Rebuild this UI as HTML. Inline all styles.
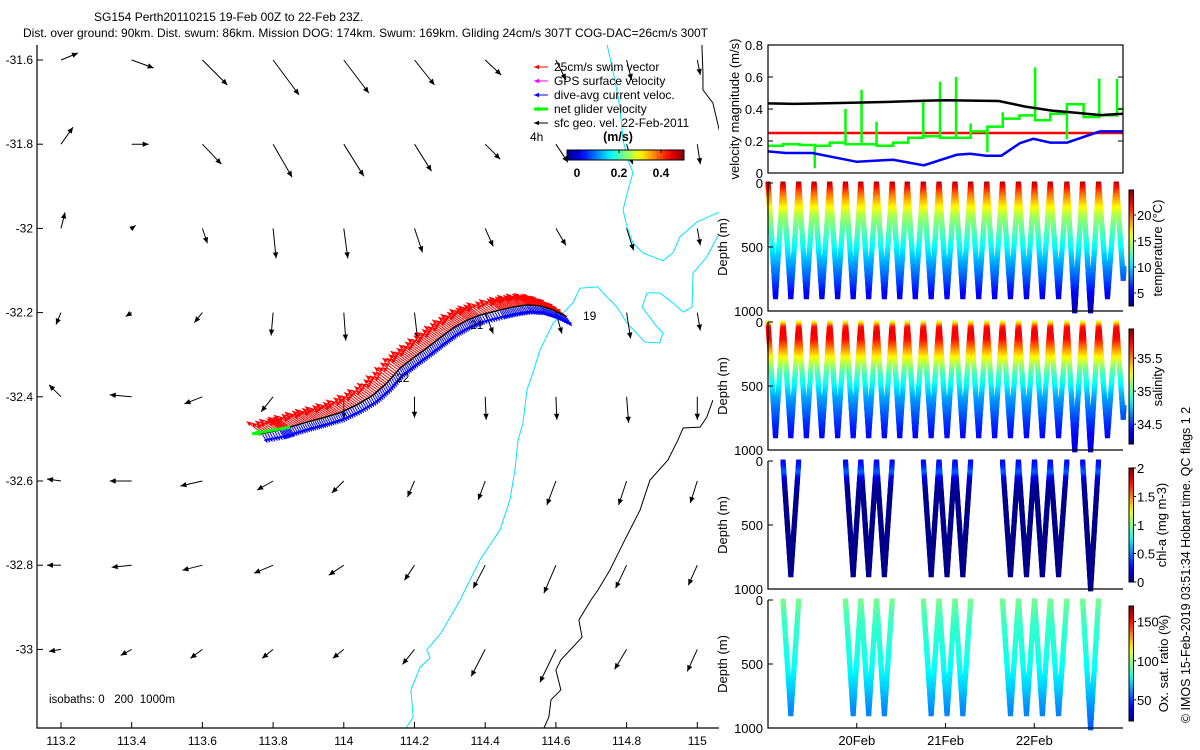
<!DOCTYPE html>
<html><head><meta charset="utf-8"><title>SG154 glider plot</title>
<style>
body{margin:0;background:#fff;}
svg{display:block;font-family:"Liberation Sans",sans-serif;}
text{fill:#000;}
</style></head>
<body>
<svg id="fig" width="1200" height="750" viewBox="0 0 1200 750" xmlns="http://www.w3.org/2000/svg">
<rect x="0" y="0" width="1200" height="750" fill="#fff"/>
<text x="94" y="21" font-size="12">SG154 Perth20110215 19-Feb 00Z to 22-Feb 23Z.</text>
<text x="23" y="37" font-size="12">Dist. over ground: 90km. Dist. swum: 86km. Mission DOG: 174km. Swum: 169km. Gliding 24cm/s 307T COG-DAC=26cm/s 300T</text>
<g id="map"></g>
<g id="vel"></g>
<g id="temp"></g>
<g id="sal"></g>
<g id="chl"></g>
<g id="ox"></g>
<text transform="translate(1190,565) rotate(-90)" text-anchor="middle" font-size="12.5">© IMOS 15-Feb-2019 03:51:34 Hobart time. QC flags 1 2</text>
</svg>
<script>
// ---------- MAP DATA ----------
const gridLons = [113.2,113.4,113.6,113.8,114.0,114.2,114.4,114.6,114.8,115.0];
const gridLats = [-31.6,-31.8,-32.0,-32.2,-32.4,-32.6,-32.8,-33.0];
const geoU = [
 [0.17,0.22,0.25,0.26,0.25,0.20,0.16,0.10,0.05,0.03],
 [0.12,0.17,0.19,0.19,0.20,0.17,0.15,0.12,0.06,0.03],
 [0.04,0.04,0.05,0.03,0.04,0.08,0.08,0.10,0.07,0.03],
 [-0.05,-0.06,-0.08,-0.02,0.02,0.03,0.08,0.06,0.04,0.03],
 [-0.12,-0.22,-0.18,-0.12,0.00,0.00,0.01,0.01,0.02,0.00],
 [-0.14,-0.22,-0.22,-0.16,-0.12,-0.07,-0.07,-0.09,-0.08,-0.07],
 [-0.14,-0.20,-0.20,-0.19,-0.15,-0.10,-0.12,-0.12,-0.11,-0.09],
 [-0.12,-0.11,-0.12,-0.11,-0.11,-0.12,-0.14,-0.16,-0.12,-0.10]];
const geoV = [
 [0.07,-0.08,-0.25,-0.35,-0.33,-0.25,-0.15,-0.20,-0.20,-0.15],
 [0.17,0.00,-0.20,-0.33,-0.32,-0.27,-0.15,-0.18,-0.20,-0.20],
 [0.16,0.03,-0.15,-0.30,-0.30,-0.24,-0.18,-0.17,-0.22,-0.17],
 [-0.12,-0.04,-0.10,-0.23,-0.28,-0.26,-0.21,-0.21,-0.26,-0.18],
 [0.12,0.02,-0.07,-0.15,-0.22,-0.21,-0.23,-0.23,-0.26,-0.23],
 [0.02,0.00,-0.05,-0.09,-0.12,-0.16,-0.19,-0.24,-0.24,-0.22],
 [0.00,-0.02,-0.05,-0.08,-0.10,-0.15,-0.23,-0.28,-0.23,-0.20],
 [-0.02,-0.06,-0.09,-0.09,-0.09,-0.15,-0.27,-0.33,-0.20,-0.22]];
const xTickLabels = ["113.2","113.4","113.6","113.8","114","114.2","114.4","114.6","114.8","115"];
const yTickLabels = ["-31.6","-31.8","-32","-32.2","-32.4","-32.6","-32.8","-33"];
const trackLon = [114.631,114.592,114.555,114.518,114.479,114.442,114.385,114.349,114.309,114.272,114.235,114.196,114.159,114.122,114.083,114.037,113.989,113.941,113.896,113.848,113.820,113.763];
const trackLat = [-32.210,-32.194,-32.184,-32.182,-32.187,-32.194,-32.206,-32.218,-32.237,-32.260,-32.284,-32.308,-32.332,-32.367,-32.396,-32.419,-32.438,-32.450,-32.460,-32.472,-32.479,-32.488];
const iso200Lon = [[114.745,114.767,114.781,114.790,114.804,114.818,114.804,114.790,114.801,114.818,114.846,114.903,114.931,114.951,114.999,115.044,115.064],
 [115.059,115.027,114.988,114.985,114.960,114.931,114.894,114.858,114.844,114.886,114.903,114.894,114.852,114.801,114.773,114.733,114.719,114.668,114.648,114.592,114.555,114.535,114.518,114.507,114.493,114.484,114.470,114.442,114.385,114.357,114.329,114.275,114.235,114.244,114.216,114.190,114.196,114.176]];
const iso200Lat = [[-31.564,-31.648,-31.712,-31.790,-31.838,-31.868,-31.909,-31.956,-31.997,-32.035,-32.058,-32.077,-32.058,-32.020,-31.985,-31.968,-31.961],
 [-32.016,-32.068,-32.106,-32.187,-32.199,-32.177,-32.153,-32.153,-32.187,-32.234,-32.248,-32.272,-32.270,-32.225,-32.187,-32.153,-32.139,-32.142,-32.177,-32.225,-32.289,-32.343,-32.384,-32.462,-32.503,-32.574,-32.645,-32.716,-32.788,-32.835,-32.883,-32.961,-33.001,-33.020,-33.042,-33.096,-33.161,-33.187]];
const iso1000Lon = [[115.013,115.016,115.016,115.044,115.064],
 [115.044,115.027,115.008,114.960,114.945,114.917,114.866,114.838,114.795,114.753,114.719,114.699,114.665,114.674,114.614,114.600,114.614,114.586,114.580,114.566]];
const iso1000Lat = [[-31.564,-31.631,-31.671,-31.702,-31.773],
 [-32.408,-32.448,-32.472,-32.474,-32.503,-32.550,-32.598,-32.669,-32.740,-32.811,-32.859,-32.883,-32.930,-32.971,-33.025,-33.049,-33.096,-33.120,-33.161,-33.187]];
const swimSpeed = 0.25, swimHeading = 307;
const currSpeed = 0.12, currHeading = 150;
const velTicks = [0,0.2,0.4];
// ---------- VELOCITY PANEL DATA ----------
const geoT = [0,0.3,0.6,1.0,1.4,1.8,2.0,2.3,2.6,2.9,3.2,3.5,3.75,4.0];
const geoMag = [0.435,0.432,0.435,0.44,0.445,0.452,0.455,0.452,0.45,0.415,0.39,0.375,0.362,0.37];
const swimT = [0,4];
const swimMag = [0.25,0.25];
const dacT = [0,0.2,0.5,1.0,1.41,1.757,2.126,2.28,2.46,2.63,2.84,2.99,3.18,3.37,3.74,4.0];
const dacMag = [0.135,0.125,0.125,0.07,0.083,0.048,0.114,0.12,0.108,0.108,0.187,0.214,0.19,0.19,0.26,0.26];
const netStepT = [0,0.169,0.357,0.527,0.696,0.873,1.054,1.223,1.411,1.58,1.75,1.938,2.119,2.284,2.472,2.645,2.833,3.01,3.18,3.368,3.556,3.733,3.932,4.0];
const netStepV = [0.17,0.18,0.175,0.17,0.19,0.18,0.18,0.17,0.19,0.22,0.23,0.22,0.22,0.26,0.29,0.34,0.36,0.33,0.37,0.43,0.35,0.36,0.40];
const netSpikeT = [0.527,0.873,1.054,1.223,1.75,1.938,2.119,2.284,2.472,2.645,3.01,3.368,3.733,3.932];
const netSpikeV = [0.03,0.40,0.52,0.32,0.45,0.57,0.60,0.31,0.13,0.38,0.66,0.21,0.59,0.59];
const velYTicks = [0,0.2,0.4,0.6,0.8];
// ---------- SECTION DATA ----------
const diveStartT = [0,0.169,0.346,0.519,0.696,0.873,1.046,1.223,1.40,1.569,1.75,1.927,2.107,2.284,2.465,2.642,2.822,3.003,3.18,3.368,3.545,3.725,3.925];
const diveEndT   = [0.169,0.346,0.519,0.696,0.873,1.046,1.223,1.40,1.569,1.75,1.927,2.107,2.284,2.465,2.642,2.822,3.003,3.18,3.368,3.545,3.725,3.925,4.08];
const diveMaxDepth = [890,890,890,890,890,890,890,890,890,890,890,890,890,890,890,890,890,890,890,1000,1000,890,750];
const bioDives = [1,5,6,7,10,11,12,15,16,17,18,20];
const depthLevels = [0,50,100,150,200,250,300,400,500,600,700,800,900,1000];
const tempProfile = [24,21.5,19.5,18,16.5,15,14,12.5,11,9.5,8,6.5,4.8,3.5];
const salProfile = [35.15,35.7,35.75,35.7,35.55,35.4,35.25,35.0,34.85,34.7,34.6,34.5,34.42,34.36];
const chlProfile = [0.25,0.3,0.45,0.18,0.07,0.04,0.03,0.02,0.02,0.02,0.02,0.02,0.02,0.02];
const oxProfile = [95,93,90,88,86,85,84,82,80,76,71,65,60,55];
const dayTicks = [1,2,3];
const dayLabels = ["20Feb","21Feb","22Feb"];
const depthTicks = [0,500,1000];
const tempTicks = [5,10,15,20];
const salTicks = [34.5,35,35.5];
const chlTicks = [0,0.5,1,1.5,2];
const chlTickLabels = ["0","0.5","1","1.5","2"];
const oxTicks = [50,100,150];

// ---------- HELPERS ----------
const NS = "http://www.w3.org/2000/svg";
function mk(parent, tag, attrs){ const e=document.createElementNS(NS,tag); for(const k in attrs) e.setAttribute(k,attrs[k]); parent.appendChild(e); return e; }
function jet(x){ x=Math.max(0,Math.min(1,x)); const c=v=>Math.round(255*Math.max(0,Math.min(1,v)));
  return `rgb(${c(1.5-Math.abs(4*x-3))},${c(1.5-Math.abs(4*x-2))},${c(1.5-Math.abs(4*x-1))})`; }
function interp(xs, ys, x){ if(x<=xs[0]) return ys[0]; for(let i=1;i<xs.length;i++){ if(x<=xs[i]){ const f=(x-xs[i-1])/(xs[i]-xs[i-1]); return ys[i-1]+f*(ys[i]-ys[i-1]); } } return ys[ys.length-1]; }
function arrow(g, x1,y1,x2,y2,color,w,hs){
  const l = mk(g,'line',{x1:x1,y1:y1,x2:x2,y2:y2,stroke:color,'stroke-width':w});
  
  
  const dx=x2-x1, dy=y2-y1, L=Math.hypot(dx,dy)||1, ux=dx/L, uy=dy/L;
  const bx=x2-ux*hs, by=y2-uy*hs, px=-uy*hs*0.45, py=ux*hs*0.45;
  const p = mk(g,'polygon',{points:`${x2},${y2} ${bx+px},${by+py} ${bx-px},${by-py}`,fill:color});
  
  
}
function gradient(id, vertical){
  let defs=document.getElementById('defs'); if(!defs){ defs=mk(document.getElementById('fig'),'defs',{id:'defs'}); }
  const lg=mk(defs,'linearGradient',{id:id,x1:0,y1:vertical?1:0,x2:vertical?0:1,y2:0});
  for(let i=0;i<=20;i++) mk(lg,'stop',{offset:(i/20),'stop-color':jet(i/20)});
}

// ---------- MAP ----------
(function(){
  const g=document.getElementById('map');
  const X=lon=>61+(lon-113.2)*353.5, Y=lat=>60+(-31.6-lat)*421;
  const L=37, R=719, T=45, B=728;
  const clip=mk(g,'clipPath',{id:'mapclip'}); mk(clip,'rect',{x:L,y:T,width:R-L,height:B-T});
  const ig=mk(g,'g',{'clip-path':'url(#mapclip)'});
  
  
  const iso=(lons,lats,color,name)=>{ lons.forEach((seg,si)=>{ const pl=mk(ig,'polyline',{points:seg.map((lo,i)=>X(lo)+','+Y(lats[si][i])).join(' '),fill:'none',stroke:color,'stroke-width':1});
    
     }); };
  iso(iso200Lon,iso200Lat,'#00e5ff','isobath-200m');
  iso(iso1000Lon,iso1000Lat,'#000','isobath-1000m');
  gridLats.forEach((la,j)=>gridLons.forEach((lo,i)=>{ const x=X(lo),y=Y(la); arrow(g,x,y,x+geoU[j][i]*100,y-geoV[j][i]*100,'#000',1,6); }));
  const pts=[]; for(let i=0;i<trackLon.length-1;i++){ const n=8; for(let k=0;k<n;k++){ const f=k/n; pts.push([X(trackLon[i]+(trackLon[i+1]-trackLon[i])*f),Y(trackLat[i]+(trackLat[i+1]-trackLat[i])*f)]); } }
  const sh=swimHeading*Math.PI/180, ch=currHeading*Math.PI/180;
  pts.forEach((p,k)=>{ const s=80*swimSpeed*(0.7+0.3*((k*7)%5)/4); arrow(g,p[0],p[1],p[0]+Math.sin(sh)*s,p[1]-Math.cos(sh)*s,'#f00',1,5); });
  pts.forEach(p=>{ const s=80*currSpeed; arrow(g,p[0],p[1]+1,p[0]+Math.sin(ch)*s,p[1]+1-Math.cos(ch)*s,'#00f',1,4); });
  const tr=mk(g,'polyline',{points:trackLon.map((lo,i)=>X(lo)+','+Y(trackLat[i])).join(' '),fill:'none',stroke:'#000','stroke-width':1.5});
  
  
  const n=trackLon.length;
  arrow(g,X(trackLon[n-3]),Y(trackLat[n-3]),X(trackLon[n-1])-8,Y(trackLat[n-1]),'#0f0',3,8);
  [["19",583,320],["21",470,329],["22",396,382]].forEach(d=>{ const t=mk(g,'text',{x:d[1],y:d[2],'font-size':12}); t.textContent=d[0];
    
     });
  const ax=mk(g,'path',{d:`M${L},${T} V${B} H${R}`,stroke:'#000','stroke-width':1.2,fill:'none'});
  
  
  gridLons.forEach((lo,i)=>{ const x=X(lo); mk(g,'line',{x1:x,y1:B,x2:x,y2:B-6,stroke:'#000'});
    const t=mk(g,'text',{x:x,y:745,'font-size':12,'text-anchor':'middle'}); t.textContent=xTickLabels[i];
    
     });
  gridLats.forEach((la,i)=>{ const y=Y(la); mk(g,'line',{x1:L,y1:y,x2:L+6,y2:y,stroke:'#000'});
    const t=mk(g,'text',{x:33,y:y+4,'font-size':12,'text-anchor':'end'}); t.textContent=yTickLabels[i];
    
     });
  const iso_t=mk(g,'text',{x:49,y:703,'font-size':11.5,style:'white-space:pre'}); iso_t.textContent='isobaths: 0   200  1000m';
  
  
  const leg=[["25cm/s swim vector","#f00",1],["GPS surface velocity","#f0f",1],["dive-avg current veloc.","#00f",1],["net glider velocity","#0f0",3],["sfc geo. vel. 22-Feb-2011","#000",1]];
  leg.forEach((e,i)=>{ const y=67+i*14; arrow(g,548,y,534,y,e[1],e[2],5);
    const t=mk(g,'text',{x:554,y:y+4,'font-size':12}); t.textContent=e[0];
    
     });
  const h4=mk(g,'text',{x:530,y:141,'font-size':12}); h4.textContent='4h';
  
  
  const ms=mk(g,'text',{x:618,y:141,'font-size':12.5,'font-weight':'bold','text-anchor':'middle'}); ms.textContent='(m/s)';
  
  
  gradient('gH',false);
  const cb=mk(g,'rect',{x:567,y:150,width:117,height:10,fill:'url(#gH)',stroke:'#000','stroke-width':1});
  
  
  const CX=v=>577+v*210;
  velTicks.forEach(v=>{ mk(g,'line',{x1:CX(v),y1:150,x2:CX(v),y2:153,stroke:'#000'});
    const t=mk(g,'text',{x:CX(v),y:177,'font-size':12,'font-weight':'bold','text-anchor':'middle'}); t.textContent=String(v);
    
     });
})();

// ---------- VELOCITY PANEL ----------
const PL=768, PR=1123;
const TX=t=>PL+t*(PR-PL)/4;
(function(){
  const g=document.getElementById('vel');
  const T=45,B=173, Y=v=>B-v*(B-T)/0.8;
  const line=(ts,vs,color,name)=>{ const pl=mk(g,'polyline',{points:ts.map((t,i)=>TX(t)+','+Y(vs[i])).join(' '),fill:'none',stroke:color,'stroke-width':2.5});
    
     };
  line(swimT,swimMag,'#f00','swim-speed-line');
  let d='';
  netStepV.forEach((v,i)=>{ d+=(i===0?'M':'L')+TX(netStepT[i])+','+Y(v)+' L'+TX(netStepT[i+1])+','+Y(v)+' '; });
  netSpikeT.forEach((t,i)=>{ const base=netStepV[Math.max(0,netStepT.findIndex(x=>x>=t-1e-6))]; d+='M'+TX(t)+','+Y(base)+' L'+TX(t)+','+Y(netSpikeV[i])+' '; });
  const np=mk(g,'path',{d:d,fill:'none',stroke:'#0f0','stroke-width':2.5});
  
  
  line(geoT,geoMag,'#000','geostrophic-speed-line');
  line(dacT,dacMag,'#00f','dive-avg-current-line');
  const bx=mk(g,'rect',{x:PL,y:T,width:PR-PL,height:B-T,fill:'none',stroke:'#000','stroke-width':1.2});
  
  
  velYTicks.forEach(v=>{ mk(g,'line',{x1:PL,y1:Y(v),x2:PL+5,y2:Y(v),stroke:'#000'}); mk(g,'line',{x1:PR,y1:Y(v),x2:PR-5,y2:Y(v),stroke:'#000'});
    const t=mk(g,'text',{x:763,y:Y(v)+5,'font-size':13,'text-anchor':'end'}); t.textContent=String(v);
    
     });
  const yl=mk(g,'text',{transform:'translate(739,109) rotate(-90)','font-size':13,'text-anchor':'middle'}); yl.textContent='velocity magnitude (m/s)';
  
  
})();

// ---------- SECTION PANELS ----------
function section(id, T, B, profile, vmin, vmax, dives, cbT, cbB, ticks, tickLabels, label, labelX, last){
  const g=document.getElementById(id);
  const Y=d=>T+d*(B-T)/1000, N=v=>(v-vmin)/(vmax-vmin);
  const pg=mk(g,'g',{});
  
  
  dives.forEach(k=>{ const t0=diveStartT[k], t1=diveEndT[k], tm=(t0+t1)/2, D=diveMaxDepth[k];
    for(let leg=0;leg<2;leg++){ for(let d=8; d<=D; d+=11){ const f=d/D; const t= leg===0? t0+f*(tm-t0) : t1-f*(t1-tm); const x=TX(t); if(x>PR+1) continue;
      mk(pg,'rect',{x:x-2.5,y:Y(d)-2.5,width:5,height:5,fill:jet(N(interp(depthLevels,profile,d)))}); } } });
  const ax=mk(g,'path',{d:`M${PL},${T} V${B} H${PR}`,fill:'none',stroke:'#000','stroke-width':1.2});
  
  
  depthTicks.forEach(v=>{ mk(g,'line',{x1:PL,y1:Y(v),x2:PL+5,y2:Y(v),stroke:'#000'});
    const t=mk(g,'text',{x:763,y:Y(v)+5,'font-size':13,'text-anchor':'end'}); t.textContent=String(v);
    
     });
  const dl=mk(g,'text',{transform:`translate(727,${(T+B)/2}) rotate(-90)`,'font-size':13,'text-anchor':'middle'}); dl.textContent='Depth (m)';
  
  
  const gid='g'+id; gradient(gid,true);
  const cb=mk(g,'rect',{x:1129,y:cbT,width:4.5,height:cbB-cbT,fill:`url(#${gid})`,stroke:'#000','stroke-width':1});
  
  
  ticks.forEach((v,i)=>{ const y=cbB-N(v)*(cbB-cbT); mk(g,'line',{x1:1133,y1:y,x2:1136,y2:y,stroke:'#000'});
    const t=mk(g,'text',{x:1137,y:y+5,'font-size':13}); t.textContent=tickLabels[i];
    
     });
  const cl=mk(g,'text',{transform:`translate(${labelX},${(cbT+cbB)/2}) rotate(-90)`,'font-size':13,'text-anchor':'middle'}); cl.textContent=label;
  
  
  if(last){ dayTicks.forEach((d,i)=>{ const x=TX(d); mk(g,'line',{x1:x,y1:B,x2:x,y2:B-5,stroke:'#000'});
    const t=mk(g,'text',{x:x,y:745,'font-size':13,'text-anchor':'middle'}); t.textContent=dayLabels[i];
    
     }); }
}
const allDives=diveStartT.map((_,i)=>i);
section('temp',183,311,tempProfile,2.5,24.8,allDives,190,306,tempTicks,tempTicks.map(String),'temperature (°C)',1162,false);
section('sal',322,450,salProfile,34.2,35.94,allDives,329,444,salTicks,salTicks.map(String),'salinity',1162,false);
section('chl',461,589,chlProfile,0,2,bioDives,468,582,chlTicks,chlTickLabels,'chl-a (mg m-3)',1166,false);
section('ox',600,728,oxProfile,23,170,bioDives,606,721,oxTicks,oxTicks.map(String),'Ox. sat. ratio (%)',1168,true);
</script>
</body></html>
